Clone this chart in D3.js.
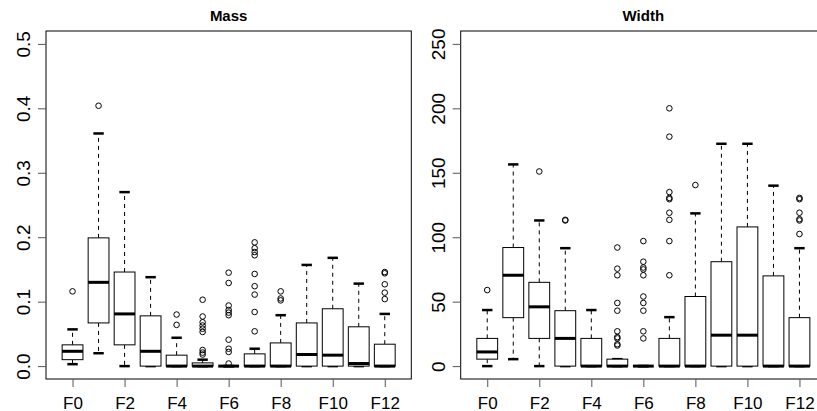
<!DOCTYPE html>
<html>
<head>
<meta charset="utf-8">
<script src="https://cdn.jsdelivr.net/npm/d3@7"></script>
<style>
  html, body { margin: 0; padding: 0; background: #fff; }
  svg { display: block; font-family: "Liberation Sans", Arial, Helvetica, sans-serif; }
</style>
</head>
<body>
<svg id="chart" width="817" height="411"></svg>
<script>
// ---- data ----
const categories = ["F0","F1","F2","F3","F4","F5","F6","F7","F8","F9","F10","F11","F12"];
const xTickLabels = ["F0","F2","F4","F6","F8","F10","F12"];

// [lower whisker, Q1, median, Q3, upper whisker]
const massBoxes = [
  [0.003, 0.010, 0.023, 0.033, 0.057],
  [0.020, 0.067, 0.130, 0.199, 0.361],
  [0.000, 0.033, 0.081, 0.146, 0.270],
  [0.000, 0.000, 0.023, 0.078, 0.138],
  [0.000, 0.000, 0.000, 0.017, 0.044],
  [0.000, 0.000, 0.000, 0.005, 0.010],
  [0.000, 0.000, 0.000, 0.000, 0.000],
  [0.000, 0.000, 0.000, 0.019, 0.027],
  [0.000, 0.000, 0.000, 0.036, 0.079],
  [0.000, 0.000, 0.018, 0.067, 0.157],
  [0.000, 0.000, 0.017, 0.089, 0.168],
  [0.000, 0.000, 0.004, 0.061, 0.128],
  [0.000, 0.000, 0.000, 0.034, 0.081]
];
const massOutliers = [
  [0.116],
  [0.404],
  [],
  [],
  [0.080, 0.064],
  [0.103, 0.077, 0.068, 0.063, 0.058, 0.053, 0.025, 0.021, 0.018],
  [0.145, 0.129, 0.094, 0.087, 0.083, 0.079, 0.041, 0.027, 0.022, 0.004],
  [0.192, 0.183, 0.177, 0.172, 0.143, 0.124, 0.111, 0.084, 0.054],
  [0.116, 0.105, 0.102],
  [],
  [],
  [],
  [0.146, 0.144, 0.127, 0.114, 0.104]
];
const massTicks = [0, 0.1, 0.2, 0.3, 0.4, 0.5];
const massTickLabels = ["0.0", "0.1", "0.2", "0.3", "0.4", "0.5"];

const widthBoxes = [
  [0, 5.4, 11, 21.5, 43.5],
  [5.4, 37.6, 70.5, 92, 156.5],
  [0, 21.5, 46, 65, 113],
  [0, 0, 21.5, 43, 91.5],
  [0, 0, 0, 21.5, 43.5],
  [0, 0, 0, 5.4, 5.4],
  [0, 0, 0, 0, 0],
  [0, 0, 0, 21.5, 38],
  [0, 0, 0, 54, 118.5],
  [0, 0, 24, 81, 172.5],
  [0, 0, 24, 108, 172.5],
  [0, 0, 0, 70, 140],
  [0, 0, 0, 37.6, 91.5]
];
const widthOutliers = [
  [59],
  [],
  [151],
  [113, 113.5],
  [],
  [92, 75.6, 70.5, 49, 43, 27, 22.5, 21.5, 17, 16],
  [97, 81, 76.5, 75, 70.5, 54, 49, 43, 27, 21.5],
  [200, 178, 135, 130.5, 129.5, 119, 113.5, 97, 70.5],
  [140.5],
  [],
  [],
  [],
  [130.5, 129.5, 119, 114, 113, 102.5]
];
const widthTicks = [0, 50, 100, 150, 200, 250];
const widthTickLabels = ["0", "50", "100", "150", "200", "250"];

// ---- drawing ----
const svg = d3.select("#chart");
const plotTop = 31, plotBottom = 379, panelW = 365.3;

function panel(x0, title, boxes, outliers, yTicks, yTickLabels, yMax) {
  const g = svg.append("g");
  const x = d3.scaleLinear()
    .domain([0.5 - 0.04 * 13 , 13.5 + 0.04 * 13])
    .range([x0, x0 + panelW]);
  const pad = 0.04 * yMax;
  const y = d3.scaleLinear().domain([-pad, yMax + pad]).range([plotBottom, plotTop]);

  const bw = x(1.4) - x(1);   // half box width (boxwex 0.8)
  const sw = bw / 2;          // half staple width

  categories.forEach((c, i) => {
    const cx = x(i + 1);
    const [lo, q1, med, q3, hi] = boxes[i];
    // whiskers
    g.append("line").attr("x1", cx).attr("x2", cx).attr("y1", y(q3)).attr("y2", y(hi))
      .attr("stroke", "#000").attr("stroke-width", 1).attr("stroke-dasharray", "4,4");
    g.append("line").attr("x1", cx).attr("x2", cx).attr("y1", y(q1)).attr("y2", y(lo))
      .attr("stroke", "#000").attr("stroke-width", 1).attr("stroke-dasharray", "4,4");
    // staples
    [lo, hi].forEach(v => {
      g.append("line").attr("x1", cx - sw).attr("x2", cx + sw).attr("y1", y(v)).attr("y2", y(v))
        .attr("stroke", "#000").attr("stroke-width", 2.5);
    });
    // box
    g.append("rect").attr("x", cx - bw).attr("width", 2 * bw)
      .attr("y", y(q3)).attr("height", Math.max(0, y(q1) - y(q3)))
      .attr("fill", "#fff").attr("stroke", "#000").attr("stroke-width", 1);
    // median
    g.append("line").attr("x1", cx - bw).attr("x2", cx + bw).attr("y1", y(med)).attr("y2", y(med))
      .attr("stroke", "#000").attr("stroke-width", 3);
    // outliers
    outliers[i].forEach(v => {
      g.append("circle").attr("cx", cx).attr("cy", y(v)).attr("r", 2.8)
        .attr("fill", "none").attr("stroke", "#000").attr("stroke-width", 1);
    });
  });

  // frame
  g.append("rect").attr("x", x0).attr("y", plotTop).attr("width", panelW).attr("height", plotBottom - plotTop)
    .attr("fill", "none").attr("stroke", "#000").attr("stroke-width", 1);

  // y axis
  const ya = g.append("g").attr("transform", `translate(${x0},0)`)
    .call(d3.axisLeft(y).tickValues(yTicks).tickSize(8)
      .tickFormat((d, i) => yTickLabels[i]));
  ya.select(".domain").remove();
  ya.selectAll(".tick line").attr("stroke", "#555");
  ya.selectAll(".tick text")
    .attr("x", null).attr("dy", null)
    .attr("text-anchor", "middle")
    .attr("transform", "translate(-16,0) rotate(-90)")
    .attr("font-size", 19).attr("fill", "#000")
    .attr("font-family", "'Liberation Sans', Arial, sans-serif");

  // x axis
  const xa = g.append("g").attr("transform", `translate(0,${plotBottom})`)
    .call(d3.axisBottom(x).tickValues(xTickLabels.map(l => categories.indexOf(l) + 1))
      .tickSize(8).tickFormat(d => categories[d - 1]));
  xa.select(".domain").remove();
  xa.selectAll(".tick line").attr("stroke", "#555");
  xa.selectAll(".tick text")
    .attr("y", 29.5).attr("dy", null)
    .attr("font-size", 17).attr("fill", "#000")
    .attr("font-family", "'Liberation Sans', Arial, sans-serif");

  // title
  g.append("text").attr("x", x0 + panelW / 2).attr("y", 20.7)
    .attr("text-anchor", "middle").attr("font-weight", "bold").attr("font-size", 15)
    .text(title);
}

panel(46, "Mass", massBoxes, massOutliers, massTicks, massTickLabels, 0.5);
panel(460.7, "Width", widthBoxes, widthOutliers, widthTicks, widthTickLabels, 250);
</script>
</body>
</html>
